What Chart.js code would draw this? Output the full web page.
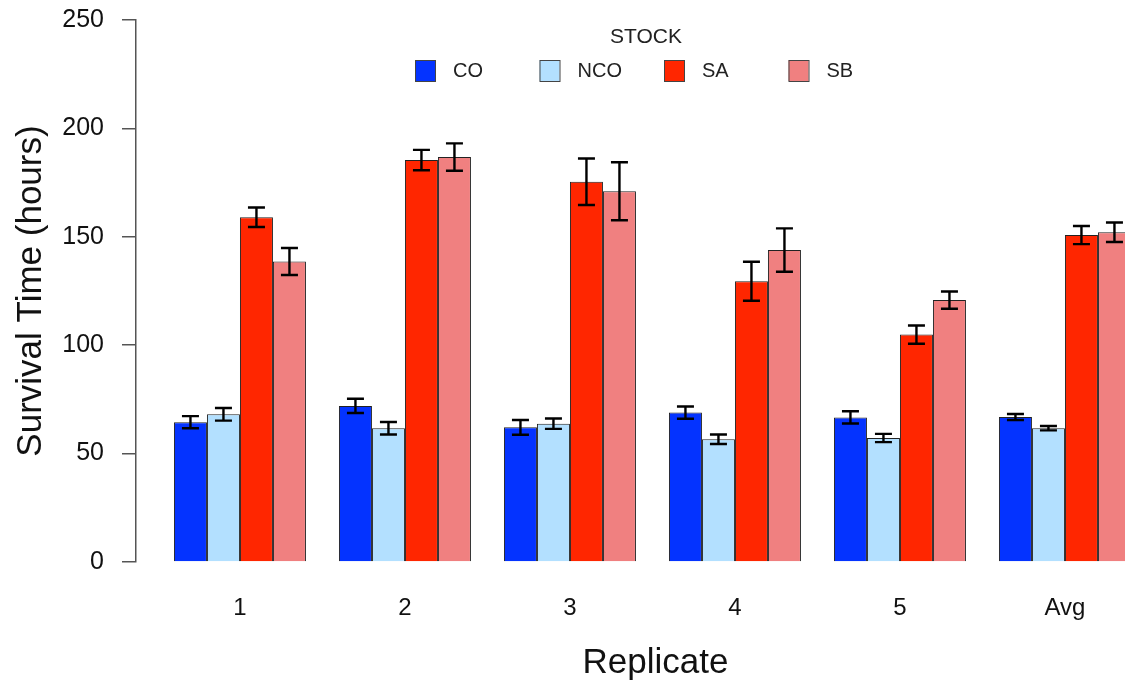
<!DOCTYPE html>
<html>
<head>
<meta charset="utf-8">
<script src="https://cdn.jsdelivr.net/npm/chart.js@4"></script>
<style>
  body { margin: 0; background: #fff; overflow: hidden; }
  canvas { display: block; }
</style>
</head>
<body>
<!-- the plot runs past the right edge of the window, as in the original -->
<canvas id="chartCanvas" width="1175" height="685"></canvas>
<script>
// data
const replicates = ['1', '2', '3', '4', '5', 'Avg']
const stockNames = ['CO', 'NCO', 'SA', 'SB']
const stockColors = ['#0433ff', '#b3e0ff', '#ff2600', '#f08080']

const coMeans  = [64.5, 72.0, 62.1, 68.9, 66.7, 66.9]
const ncoMeans = [68.1, 61.7, 63.8, 56.6, 57.2, 61.7]
const saMeans  = [159.0, 185.4, 175.4, 129.5, 104.9, 150.8]
const sbMeans  = [138.6, 186.8, 171.0, 143.9, 120.8, 152.1]

const coErrors  = [2.8, 3.3, 3.4, 2.8, 2.8, 1.4]
const ncoErrors = [2.9, 2.9, 2.4, 2.2, 1.9, 1.0]
const saErrors  = [4.5, 4.7, 10.7, 9.0, 4.2, 4.2]
const sbErrors  = [6.2, 6.3, 13.4, 10.0, 4.0, 4.5]

const yTicks = [0, 50, 100, 150, 200, 250]

const allMeans = [coMeans, ncoMeans, saMeans, sbMeans]
const allErrors = [coErrors, ncoErrors, saErrors, sbErrors]

const fontName = "'Liberation Sans', Arial, sans-serif"

// error bars on top of each bar
const errorBarPlugin = {
    id: 'errorBars',
    afterDatasetsDraw(chart) {
        const ctx = chart.ctx
        const yScale = chart.scales.y
        ctx.save()
        ctx.strokeStyle = '#000'
        ctx.lineWidth = 2.4
        chart.data.datasets.forEach((ds, di) => {
            const meta = chart.getDatasetMeta(di)
            meta.data.forEach((bar, i) => {
                const v = allMeans[di][i]
                const e = allErrors[di][i]
                const yHi = yScale.getPixelForValue(v + e)
                const yLo = yScale.getPixelForValue(v - e)
                const x = bar.x
                ctx.beginPath()
                ctx.moveTo(x, yHi); ctx.lineTo(x, yLo)
                ctx.moveTo(x - 8.5, yHi); ctx.lineTo(x + 8.5, yHi)
                ctx.moveTo(x - 8.5, yLo); ctx.lineTo(x + 8.5, yLo)
                ctx.stroke()
            })
        })
        ctx.restore()
    }
}

// legend drawn inside the plot, like the original
const stockLegendPlugin = {
    id: 'stockLegend',
    afterDraw(chart) {
        const ctx = chart.ctx
        ctx.save()
        ctx.fillStyle = '#222'
        ctx.font = '21px ' + fontName
        ctx.textAlign = 'center'
        ctx.textBaseline = 'middle'
        ctx.fillText('STOCK', 646, 37)
        ctx.textAlign = 'left'
        ctx.font = '20px ' + fontName
        stockNames.forEach((name, i) => {
            const x = 415 + i * 124.5
            ctx.fillStyle = stockColors[i]
            ctx.fillRect(x, 60, 20, 21)
            ctx.strokeStyle = '#444'
            ctx.lineWidth = 1
            ctx.strokeRect(x + 0.5, 60.5, 20, 21)
            ctx.fillStyle = '#222'
            ctx.fillText(name, x + 38, 71)
        })
        ctx.restore()
    }
}

const chart = new Chart(
    document.getElementById('chartCanvas'),
    {
        type: 'bar',
        data: {
            datasets: stockNames.map((name, di) => ({
                label: name,
                data: allMeans[di].map((v, i) => ({x: i, y: v})),
                backgroundColor: stockColors[di],
                borderColor: '#222',
                borderWidth: 1,
                categoryPercentage: 0.8,
                barPercentage: 1
            }))
        },
        options: {
            responsive: false,
            animation: false,
            layout: { padding: { top: 20, right: 0, bottom: 0, left: 0 } },
            scales: {
                x: {
                    type: 'linear',
                    offset: false,
                    min: -0.63,
                    max: -0.63 + 1039 / 165,
                    border: { display: false },
                    grid: { display: false },
                    afterBuildTicks: s => { s.ticks = replicates.map((_, i) => ({value: i})) },
                    afterFit: s => { s.height = 123; s.paddingLeft = 0; s.paddingRight = 0 },
                    ticks: {
                        padding: 24,
                        color: '#111',
                        font: { family: fontName, size: 24 },
                        callback: v => replicates[v]
                    },
                    title: {
                        display: true,
                        text: 'Replicate',
                        color: '#111',
                        font: { family: fontName, size: 35 },
                        padding: { top: 0, bottom: 1 }
                    }
                },
                y: {
                    min: 0,
                    max: 250,
                    afterBuildTicks: s => { s.ticks = yTicks.map(v => ({value: v})) },
                    afterFit: s => { s.width = 136; s.paddingTop = 0; s.paddingBottom = 0 },
                    border: { display: true, color: '#555', width: 1.5 },
                    grid: { drawOnChartArea: false, tickLength: 14, color: '#555', lineWidth: 1.5 },
                    ticks: {
                        padding: 18,
                        color: '#111',
                        font: { family: fontName, size: 25 }
                    },
                    title: {
                        display: true,
                        text: 'Survival Time (hours)',
                        color: '#111',
                        font: { family: fontName, size: 35 },
                        padding: { top: 10, bottom: 0 }
                    }
                }
            },
            plugins: {
                legend: { display: false },
                tooltip: { enabled: false }
            }
        },
        plugins: [errorBarPlugin, stockLegendPlugin]
    }
)
</script>
</body>
</html>
